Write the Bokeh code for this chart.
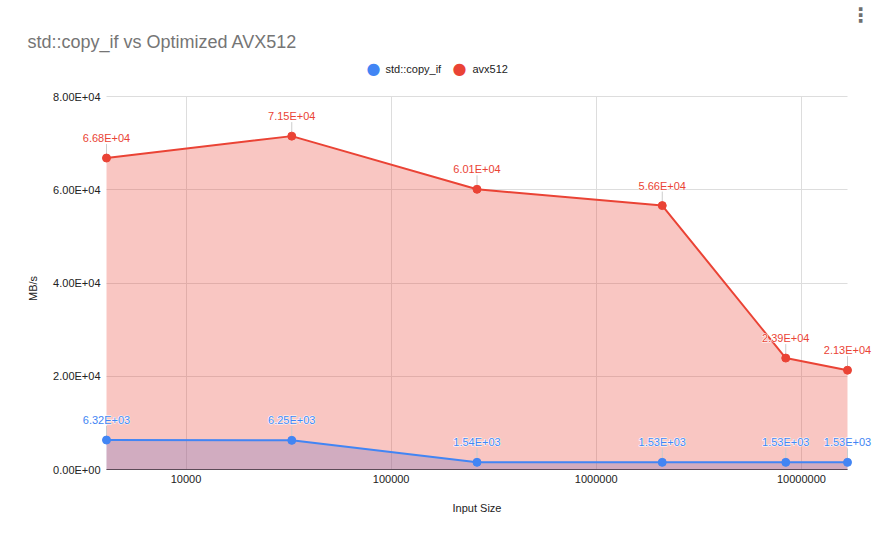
import math
from bokeh.plotting import figure
from bokeh.models import (Range1d, FixedTicker, CustomJSTickFormatter, ColumnDataSource, Label)
from bokeh.embed import file_html
from bokeh.resources import INLINE

# ---- data ----
input_size = [4096, 32768, 262144, 2097152, 8388608, 16777216]
std_copy_if = [6320, 6250, 1540, 1530, 1530, 1530]
avx512 = [66800, 71500, 60100, 56600, 23900, 21300]
x_ticks = [10000, 100000, 1000000, 10000000]
x_tick_labels = ["10000", "100000", "1000000", "10000000"]
y_ticks = [0, 20000, 40000, 60000, 80000]
series_names = ["std::copy_if", "avx512"]
title_text = "std::copy_if vs Optimized AVX512"
x_title = "Input Size"
y_title = "MB/s"

BLUE = "#4285F4"
RED = "#EA4335"
FONT = "Liberation Sans"
TXT = "#222222"

# ---- layout (pixels) ----
W, H = 874, 540
FR_L, FR_R, FR_T, FR_B = 20, 874, 0, 530        # frame edges
DA_L, DA_R, DA_T, DA_B = 106, 847, 96, 469       # chart-area edges inside the frame
X_LO, X_HI = input_size[0], input_size[-1]
Y_MAX = y_ticks[-1]

ppd = (DA_R - DA_L) / (math.log10(X_HI) - math.log10(X_LO))
x_start = 10 ** (math.log10(X_LO) - (DA_L - FR_L) / ppd)
x_end = 10 ** (math.log10(X_HI) + (FR_R - DA_R) / ppd)
unit_per_px = Y_MAX / (DA_B - DA_T)
y_end = Y_MAX + (DA_T - FR_T) * unit_per_px
y_start = -(FR_B - DA_B) * unit_per_px
stem_px = 14

p = figure(width=W, height=H, x_axis_type="log",
           x_range=Range1d(x_start, x_end), y_range=Range1d(y_start, y_end),
           output_backend="svg", toolbar_location=None, title=None,
           min_border_left=FR_L, min_border_right=W - FR_R,
           min_border_top=FR_T, min_border_bottom=H - FR_B)
p.outline_line_color = None
p.background_fill_color = "white"
p.border_fill_color = "white"

# axes
p.xaxis.ticker = FixedTicker(ticks=x_ticks)
p.xaxis.major_label_overrides = {t: l for t, l in zip(x_ticks, x_tick_labels)}
p.xaxis.bounds = (X_LO, X_HI)
p.yaxis.ticker = FixedTicker(ticks=y_ticks)
p.yaxis.bounds = (0, Y_MAX)
p.yaxis.formatter = CustomJSTickFormatter(code="""
const s = tick.toExponential(2);
const parts = s.split('e');
const sign = parts[1][0];
let d = parts[1].slice(1);
if (d.length < 2) d = '0' + d;
return parts[0] + 'E' + sign + d;
""")
for ax in (p.xaxis, p.yaxis):
    ax.axis_line_color = None
    ax.major_tick_line_color = None
    ax.minor_tick_line_color = None
    ax.major_tick_out = 0
    ax.major_tick_in = 0
    ax.minor_tick_out = 0
    ax.minor_tick_in = 0
    ax.major_label_text_font = FONT
    ax.major_label_text_font_size = "11px"
    ax.major_label_text_color = TXT
# tick labels sit inside the widened frame, next to the chart area
p.xaxis.major_label_standoff = 5 - (FR_B - DA_B)
p.yaxis.major_label_standoff = FR_L - (DA_L - 6)

p.xgrid.grid_line_color = "#dddddd"
p.ygrid.grid_line_color = "#dddddd"
try:
    p.xgrid.cross_bounds = (0, Y_MAX)
    p.ygrid.cross_bounds = (X_LO, X_HI)
except Exception:
    pass

src_b = ColumnDataSource(dict(x=input_size, y=std_copy_if,
                              top=[v + stem_px * unit_per_px for v in std_copy_if]))
src_a = ColumnDataSource(dict(x=input_size, y=avx512,
                              top=[v + stem_px * unit_per_px for v in avx512]))

# baseline
p.segment(x0=X_LO, y0=0, x1=X_HI, y1=0, line_color="#444444", line_width=1)

# areas (blue under red)
p.varea(x="x", y1=0, y2="y", source=src_b, fill_color=BLUE, fill_alpha=0.3)
p.varea(x="x", y1=0, y2="y", source=src_a, fill_color=RED, fill_alpha=0.3)

# stems
p.segment(x0="x", y0="y", x1="x", y1="top", source=src_a, line_color="#cccccc", line_width=1)
p.segment(x0="x", y0="y", x1="x", y1="top", source=src_b, line_color="#cccccc", line_width=1)

# lines & points
p.line(x="x", y="y", source=src_a, line_color=RED, line_width=2)
p.scatter(x="x", y="y", source=src_a, size=8, fill_color=RED, line_color=RED)
p.line(x="x", y="y", source=src_b, line_color=BLUE, line_width=2)
p.scatter(x="x", y="y", source=src_b, size=8, fill_color=BLUE, line_color=BLUE)

# data labels (white halo underneath, coloured text on top)
for vals, col in ((avx512, RED), (std_copy_if, BLUE)):
    for xv, yv in zip(input_size, vals):
        txt = f"{yv:.2E}"
        halo = Label(x=xv, y=yv, text=txt, y_offset=20, text_align="center",
                     text_baseline="middle", text_font=FONT, text_font_size="11px",
                     text_color="white")
        try:
            halo.text_outline_color = "white"
        except Exception:
            pass
        p.add_layout(halo)
        p.add_layout(Label(x=xv, y=yv, text=txt, y_offset=20, text_align="center",
                           text_baseline="middle", text_font=FONT, text_font_size="11px",
                           text_color=col))

# axis titles, centred on the chart area
p.add_layout(Label(x=32 - FR_L, y=FR_B - 288, x_units="screen", y_units="screen", text=y_title,
                   angle=math.pi / 2, text_align="center", text_baseline="middle",
                   text_font=FONT, text_font_size="11px", text_color=TXT))
p.add_layout(Label(x=(DA_L + DA_R) / 2 - FR_L, y=FR_B - 507, x_units="screen", y_units="screen",
                   text=x_title, text_align="center", text_baseline="middle",
                   text_font=FONT, text_font_size="11px", text_color=TXT))

# chart title
p.add_layout(Label(x=27 - FR_L, y=FR_B - 41, x_units="screen", y_units="screen", text=title_text,
                   text_align="left", text_baseline="alphabetic",
                   text_font=FONT, text_font_size="18px", text_color="#757575"))

# legend drawn with labels (screen units relative to the frame)
leg_y = FR_B - 68
legend_pos = [(373, 385), (459, 472)]
for name, col, (mx, tx) in zip(series_names, (BLUE, RED), legend_pos):
    p.add_layout(Label(x=mx - FR_L, y=leg_y, x_units="screen", y_units="screen", text="\u25cf",
                       text_align="center", text_baseline="middle",
                       text_font="DejaVu Sans", text_font_size="16px", text_color=col))
    p.add_layout(Label(x=tx - FR_L, y=leg_y, x_units="screen", y_units="screen", text=name,
                       text_align="left", text_baseline="middle",
                       text_font=FONT, text_font_size="11px", text_color=TXT))

# menu dots
p.add_layout(Label(x=860 - FR_L, y=FR_B - 14, x_units="screen", y_units="screen", text="\u22ee",
                   text_align="center", text_baseline="middle", text_font_style="bold",
                   text_font="DejaVu Sans", text_font_size="20px", text_color="#6f6f6f"))

open("out.html", "w").write(file_html(p, INLINE))
